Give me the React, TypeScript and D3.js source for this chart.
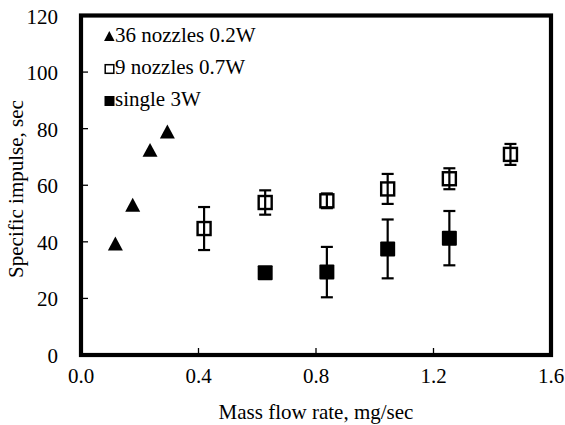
import React from "react";
import * as d3 from "d3";

// values
const xTicks = [0, 0.4, 0.8, 1.2, 1.6];
const yTicks = [0, 20, 40, 60, 80, 100, 120];

const nozzles36X = [0.117, 0.176, 0.235, 0.294];
const nozzles36Y = [39.4, 53.1, 72.5, 79.0];

const nozzles9X = [0.419, 0.627, 0.837, 1.044, 1.254, 1.462];
const nozzles9Y = [44.7, 53.9, 54.5, 58.7, 62.3, 70.9];
const nozzles9Err = [7.6, 4.3, 2.6, 5.3, 3.7, 3.7];

const singleX = [0.627, 0.837, 1.044, 1.254];
const singleY = [29.1, 29.3, 37.5, 41.3];
const singleErr = [0, 8.9, 10.4, 9.6];

const legendLabels = ["36 nozzles 0.2W", "9 nozzles 0.7W", "single 3W"];

const W = 565;
const H = 425;
const font = "'Liberation Serif', 'Times New Roman', serif";

const App = () => {
  const x = d3.scaleLinear().domain([0, 1.6]).range([81, 551]);
  const y = d3.scaleLinear().domain([0, 120]).range([355, 15.5]);

  const triPath = (w: number) => {
    const h = w * 0.93;
    return `M0,${-h / 2}L${w / 2},${h / 2}L${-w / 2},${h / 2}Z`;
  };

  const errBar = (cx: number, cy: number, e: number, key: string) => {
    if (!e) return null;
    const top = y(cy + e);
    const bot = y(cy - e);
    const px = x(cx);
    return (
      <g key={key} stroke="#000" strokeWidth={2.2}>
        <line x1={px} x2={px} y1={top} y2={bot} />
        <line x1={px - 6} x2={px + 6} y1={top} y2={top} />
        <line x1={px - 6} x2={px + 6} y1={bot} y2={bot} />
      </g>
    );
  };

  const legendY = [36, 69, 101];
  const txt = { fontFamily: font, fontSize: 21 };

  return (
    <svg
      width={W}
      height={H}
      style={{ position: "absolute", left: 0, top: 0, display: "block", background: "#fff", fontFamily: font }}
    >
      <rect width={W} height={H} fill="#fff" />

      {/* ticks inside the frame */}
      {yTicks.map((t) => (
        <line key={"yt" + t} x1={81} x2={88} y1={y(t)} y2={y(t)} stroke="#000" strokeWidth={1.3} />
      ))}
      {xTicks.map((t) => (
        <line key={"xt" + t} x1={x(t)} x2={x(t)} y1={355} y2={348} stroke="#000" strokeWidth={1.3} />
      ))}

      {/* tick labels */}
      {yTicks.map((t) => (
        <text key={"yl" + t} x={58} y={y(t) + 8} textAnchor="end" style={txt}>
          {t}
        </text>
      ))}
      {xTicks.map((t) => (
        <text key={"xl" + t} x={x(t)} y={383} textAnchor="middle" style={txt}>
          {d3.format(".1f")(t)}
        </text>
      ))}

      {/* axis titles */}
      <text x={316} y={419} textAnchor="middle" style={txt}>
        Mass flow rate, mg/sec
      </text>
      <text transform="translate(23,189) rotate(-90)" textAnchor="middle" style={txt}>
        Specific impulse, sec
      </text>

      {/* error bars */}
      {nozzles9X.map((v, i) => errBar(v, nozzles9Y[i], nozzles9Err[i], "e9" + i))}
      {singleX.map((v, i) => errBar(v, singleY[i], singleErr[i], "es" + i))}

      {/* markers */}
      {nozzles36X.map((v, i) => (
        <path
          key={"t" + i}
          d={triPath(15)}
          transform={`translate(${x(v)},${y(nozzles36Y[i])})`}
          fill="#000"
        />
      ))}
      {nozzles9X.map((v, i) => (
        <rect
          key={"o" + i}
          x={x(v) - 6.5}
          y={y(nozzles9Y[i]) - 6.5}
          width={13}
          height={13}
          fill="none"
          stroke="#000"
          strokeWidth={2.4}
        />
      ))}
      {singleX.map((v, i) => (
        <rect
          key={"s" + i}
          x={x(v) - 7.5}
          y={y(singleY[i]) - 7.5}
          width={15}
          height={15}
          fill="#000"
          rx={1}
        />
      ))}

      {/* legend */}
      <path d={triPath(10.5)} transform={`translate(109.3,${legendY[0]})`} fill="#000" />
      <rect x={105.2} y={legendY[1] - 4.3} width={8.6} height={8.6} fill="none" stroke="#000" strokeWidth={1.5} />
      <rect x={104.5} y={legendY[2] - 5} width={10} height={10} fill="#000" />
      {legendLabels.map((l, i) => (
        <text key={l} x={115} y={[42, 74, 106][i]} style={txt}>
          {l}
        </text>
      ))}

      {/* frame */}
      <rect x={81} y={15.5} width={470} height={339.5} fill="none" stroke="#000" strokeWidth={4.2} />
    </svg>
  );
};

export default App;
